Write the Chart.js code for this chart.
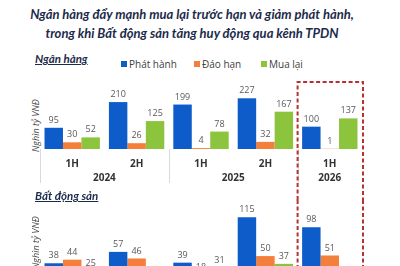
<!DOCTYPE html>
<html>
<head>
<meta charset="utf-8">
<script src="https://cdn.jsdelivr.net/npm/chart.js@4.4.1/dist/chart.umd.min.js"></script>
<style>
  html, body { margin: 0; padding: 0; width: 400px; height: 266px; overflow: hidden; background: #fff; font-family: "Open Sans", sans-serif; }
  .abs { position: absolute; }
  #title { top: 5px; left: 0; width: 384px; text-align: center; font-family: Lato, sans-serif; font-weight: 700; font-style: italic; font-size: 13px; line-height: 19px; color: #1c2b4b; }
  .section { left: 35px; font-family: Lato, sans-serif; font-weight: 700; font-style: italic; font-size: 11.5px; color: #1c2b4b; text-decoration: underline; }
  .ytitle { font-style: italic; font-size: 9px; color: #444; transform: rotate(-90deg); transform-origin: left top; white-space: nowrap; }
  .legend { top: 64px; font-size: 10px; color: #404040; display: flex; align-items: center; }
  .legend i { display: inline-block; width: 6px; height: 6px; margin-right: 2px; }
  canvas { position: absolute; left: 0; }
</style>
</head>
<body>
<div id="title" class="abs">Ngân hàng đẩy mạnh mua lại trước hạn và giảm phát hành,<br>trong khi Bất động sản tăng huy động qua kênh TPDN</div>
<div class="abs section" style="top:52px">Ngân hàng</div>
<div class="abs legend" id="legend"></div>
<div class="abs ytitle" style="left:29px; top:152px">Nghìn tỷ VNĐ</div>
<canvas id="bank" width="400" height="122" style="top:78px"></canvas>
<canvas id="bds" width="400" height="100" style="top:200px"></canvas>
<div class="abs section" style="top:189px">Bất động sản</div>
<div class="abs ytitle" style="left:29px; top:269px">Nghìn tỷ VNĐ</div>
<script>
const halves = ["1H", "2H", "1H", "2H", "1H"];
const years = ["2024", "2025", "2026"];
const yearSpans = [2, 2, 1];

const seriesNames = ["Phát hành", "Đáo hạn", "Mua lại"];
const seriesColors = ["#0e5cc9", "#f47f3a", "#8dc43d"];

const bankIssued = [95, 210, 199, 227, 100];
const bankMatured = [30, 26, 4, 32, 1];
const bankBuyback = [52, 125, 78, 167, 137];

const reIssued = [38, 57, 39, 115, 98];
const reMatured = [44, 46, 18, 50, 51];
const reBuyback = [25, 10, 31, 37, 8];

Chart.defaults.font.family = "'Open Sans', sans-serif";

// legend (html)
const legendEl = document.getElementById("legend");
const legendX = [121, 194, 261];
seriesNames.forEach((name, i) => {
    const item = document.createElement("div");
    item.className = "abs";
    item.style.left = legendX[i] + "px";
    item.style.display = "flex";
    item.style.alignItems = "center";
    item.style.whiteSpace = "nowrap";
    item.innerHTML = `<i style="background:${seriesColors[i]}"></i>${name}`;
    legendEl.appendChild(item);
});

function boxX(chart) {
    const x = chart.scales.x;
    const n = halves.length;
    return {
        left: (x.getPixelForValue(n - 2) + x.getPixelForValue(n - 1)) / 2,
        right: x.right + 1,
    };
}

function drawDashed(ctx, pts) {
    ctx.save();
    ctx.strokeStyle = "#b8302f";
    ctx.lineWidth = 2;
    ctx.setLineDash([4, 2.5]);
    ctx.beginPath();
    ctx.moveTo(pts[0][0], pts[0][1]);
    for (let i = 1; i < pts.length; i++) ctx.lineTo(pts[i][0], pts[i][1]);
    ctx.stroke();
    ctx.restore();
}

const valueLabels = {
    id: "valueLabels",
    afterDatasetsDraw(chart) {
        const ctx = chart.ctx;
        ctx.save();
        ctx.font = "9px 'Open Sans', sans-serif";
        ctx.fillStyle = "#595959";
        ctx.textAlign = "center";
        ctx.textBaseline = "bottom";
        chart.data.datasets.forEach((ds, di) => {
            chart.getDatasetMeta(di).data.forEach((bar, i) => {
                ctx.fillText(ds.data[i], bar.x, bar.y - 3);
            });
        });
        ctx.restore();
    },
};

const bankDecor = {
    id: "bankDecor",
    afterDraw(chart) {
        const ctx = chart.ctx;
        const x = chart.scales.x;
        const bottom = chart.chartArea.bottom;
        // separators between years
        ctx.save();
        ctx.strokeStyle = "#d9d9d9";
        ctx.lineWidth = 1;
        let idx = 0;
        const seps = [x.left];
        yearSpans.forEach((span) => {
            idx += span;
            if (idx < halves.length) seps.push((x.getPixelForValue(idx - 1) + x.getPixelForValue(idx)) / 2);
        });
        seps.forEach((sx) => {
            ctx.beginPath();
            ctx.moveTo(Math.round(sx) + 0.5, bottom);
            ctx.lineTo(Math.round(sx) + 0.5, bottom + 34);
            ctx.stroke();
        });
        // year labels
        ctx.font = "bold 10px 'Open Sans', sans-serif";
        ctx.fillStyle = "#333";
        ctx.textAlign = "center";
        ctx.textBaseline = "middle";
        idx = 0;
        years.forEach((y, i) => {
            const cx = (x.getPixelForValue(idx) + x.getPixelForValue(idx + yearSpans[i] - 1)) / 2;
            ctx.fillText(y, cx, bottom + 29);
            idx += yearSpans[i];
        });
        ctx.restore();
        const b = boxX(chart);
        drawDashed(ctx, [[b.left, chart.height], [b.left, 4], [b.right, 4], [b.right, chart.height]]);
    },
};

const bdsDecor = {
    id: "bdsDecor",
    afterDraw(chart) {
        const b = boxX(chart);
        drawDashed(chart.ctx, [[b.left, 0], [b.left, chart.height]]);
        drawDashed(chart.ctx, [[b.right, 0], [b.right, chart.height]]);
    },
};

function makeDatasets(a, b, c) {
    return [a, b, c].map((data, i) => ({
        label: seriesNames[i],
        data: data,
        backgroundColor: seriesColors[i],
        categoryPercentage: 0.86,
        barPercentage: 1.0,
    }));
}

new Chart(document.getElementById("bank"), {
    type: "bar",
    data: { labels: halves, datasets: makeDatasets(bankIssued, bankMatured, bankBuyback) },
    options: {
        responsive: false,
        animation: false,
        layout: { padding: { left: 40, right: 38, top: 8, bottom: 12 } },
        plugins: { legend: { display: false }, tooltip: { enabled: false } },
        scales: {
            x: {
                grid: { display: false },
                border: { display: false },
                ticks: { font: { size: 10, weight: "bold" }, color: "#333", padding: 1 },
                afterFit: (scale) => { scale.height = 39; },
            },
            y: { display: false, min: 0, max: 282 },
        },
    },
    plugins: [valueLabels, bankDecor],
});

new Chart(document.getElementById("bds"), {
    type: "bar",
    data: { labels: halves, datasets: makeDatasets(reIssued, reMatured, reBuyback) },
    options: {
        responsive: false,
        animation: false,
        layout: { padding: { left: 40, right: 38, top: 10, bottom: 14 } },
        plugins: { legend: { display: false }, tooltip: { enabled: false } },
        scales: {
            x: { display: false },
            y: { display: false, min: 0, max: 127 },
        },
    },
    plugins: [valueLabels, bdsDecor],
});
</script>
</body>
</html>
